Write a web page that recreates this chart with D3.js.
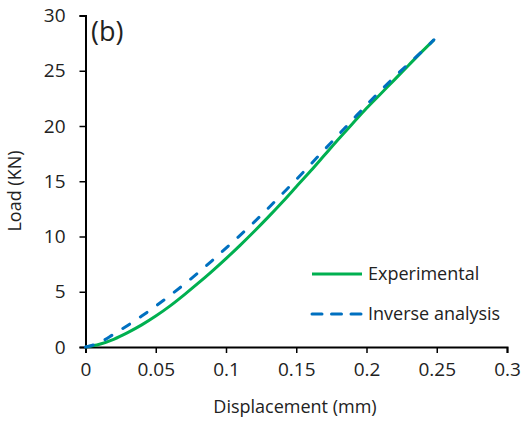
<!DOCTYPE html>
<html>
  <head>
    <meta charset="utf-8">
    <title>Load vs displacement</title>
    <script src="https://cdn.jsdelivr.net/npm/d3@7"></script>
    <style>
      body { margin: 0; background: #fff; }
      text { font-family: "Open Sans", sans-serif; fill: #222; }
    </style>
  </head>
  <body>
    <script>
      // data
      var disp = [0, 0.01, 0.02, 0.03, 0.04, 0.05, 0.06, 0.07, 0.08, 0.09, 0.1,
                  0.11, 0.12, 0.13, 0.14, 0.15, 0.16, 0.17, 0.18, 0.19, 0.2,
                  0.21, 0.22, 0.23, 0.24, 0.248];
      var experimental = [0, 0.25, 0.7, 1.3, 2.0, 2.8, 3.7, 4.7, 5.75, 6.85, 8.0,
                          9.2, 10.45, 11.75, 13.1, 14.5, 15.9, 17.35, 18.8, 20.2, 21.6,
                          22.9, 24.2, 25.5, 26.8, 27.8];
      var inverse = [0, 0.4, 1.15, 1.95, 2.8, 3.7, 4.65, 5.65, 6.7, 7.8, 8.95,
                     10.1, 11.3, 12.55, 13.85, 15.15, 16.5, 17.85, 19.2, 20.55, 21.9,
                     23.2, 24.45, 25.65, 26.8, 27.8];
      var xTicks = [0, 0.05, 0.1, 0.15, 0.2, 0.25, 0.3];
      var yTicks = [0, 5, 10, 15, 20, 25, 30];

      var w = 525, h = 423;
      var mLeft = 85.5, mRight = 507, mTop = 15.5, mBottom = 347;

      var svg = d3.select("body").append("svg")
                  .attr("width", w)
                  .attr("height", h);

      var x = d3.scaleLinear().domain([0, 0.3]).range([mLeft, mRight]);
      var y = d3.scaleLinear().domain([0, 30]).range([mBottom, mTop]);

      // axes
      var xAxis = svg.append("g")
                     .attr("transform", "translate(0," + mBottom + ")")
                     .call(d3.axisBottom(x).tickValues(xTicks)
                             .tickSize(6).tickPadding(13)
                             .tickFormat(function(d) { return String(+d.toFixed(2)); }));
      var yAxis = svg.append("g")
                     .attr("transform", "translate(" + mLeft + ",0)")
                     .call(d3.axisLeft(y).tickValues(yTicks)
                             .tickSize(6).tickPadding(14));
      [xAxis, yAxis].forEach(function(g) {
        g.select(".domain").attr("stroke", "#000").attr("stroke-width", 2);
        g.selectAll(".tick line").attr("stroke", "#000").attr("stroke-width", 1.5);
        g.selectAll(".tick text").style("font-size", "19px").attr("fill", "#222");
      });
      xAxis.selectAll(".tick text").attr("dy", "0.5em");

      var line = d3.line()
                   .x(function(d) { return x(d[0]); })
                   .y(function(d) { return y(d[1]); })
                   .curve(d3.curveMonotoneX);

      svg.append("path")
         .datum(d3.zip(disp, experimental))
         .attr("d", line)
         .attr("fill", "none")
         .attr("stroke", "#00b050")
         .attr("stroke-width", 3);

      svg.append("path")
         .datum(d3.zip(disp, inverse))
         .attr("d", line)
         .attr("fill", "none")
         .attr("stroke", "#0070c0")
         .attr("stroke-width", 3)
         .attr("stroke-linecap", "round")
         .attr("stroke-dasharray", "8,13");

      // legend
      var legend = [
        {name: "Experimental", color: "#00b050", dash: null, yy: 274},
        {name: "Inverse analysis", color: "#0070c0", dash: "10,9.5", yy: 314}
      ];
      legend.forEach(function(l) {
        svg.append("line")
           .attr("x1", 312).attr("x2", 362)
           .attr("y1", l.yy).attr("y2", l.yy)
           .attr("stroke", l.color)
           .attr("stroke-width", 3)
           .attr("stroke-linecap", l.dash ? "round" : "butt")
           .attr("stroke-dasharray", l.dash);
        svg.append("text")
           .attr("x", 368).attr("y", l.yy + 6)
           .style("font-size", "18px")
           .text(l.name);
      });

      // labels
      svg.append("text")
         .attr("x", 91).attr("y", 41)
         .style("font-size", "27px")
         .text("(b)");
      svg.append("text")
         .attr("x", 295).attr("y", 413)
         .attr("text-anchor", "middle")
         .style("font-size", "18px")
         .text("Displacement (mm)");
      svg.append("text")
         .attr("transform", "translate(21,191) rotate(-90)")
         .attr("text-anchor", "middle")
         .style("font-size", "18px")
         .text("Load (KN)");
    </script>
  </body>
</html>
